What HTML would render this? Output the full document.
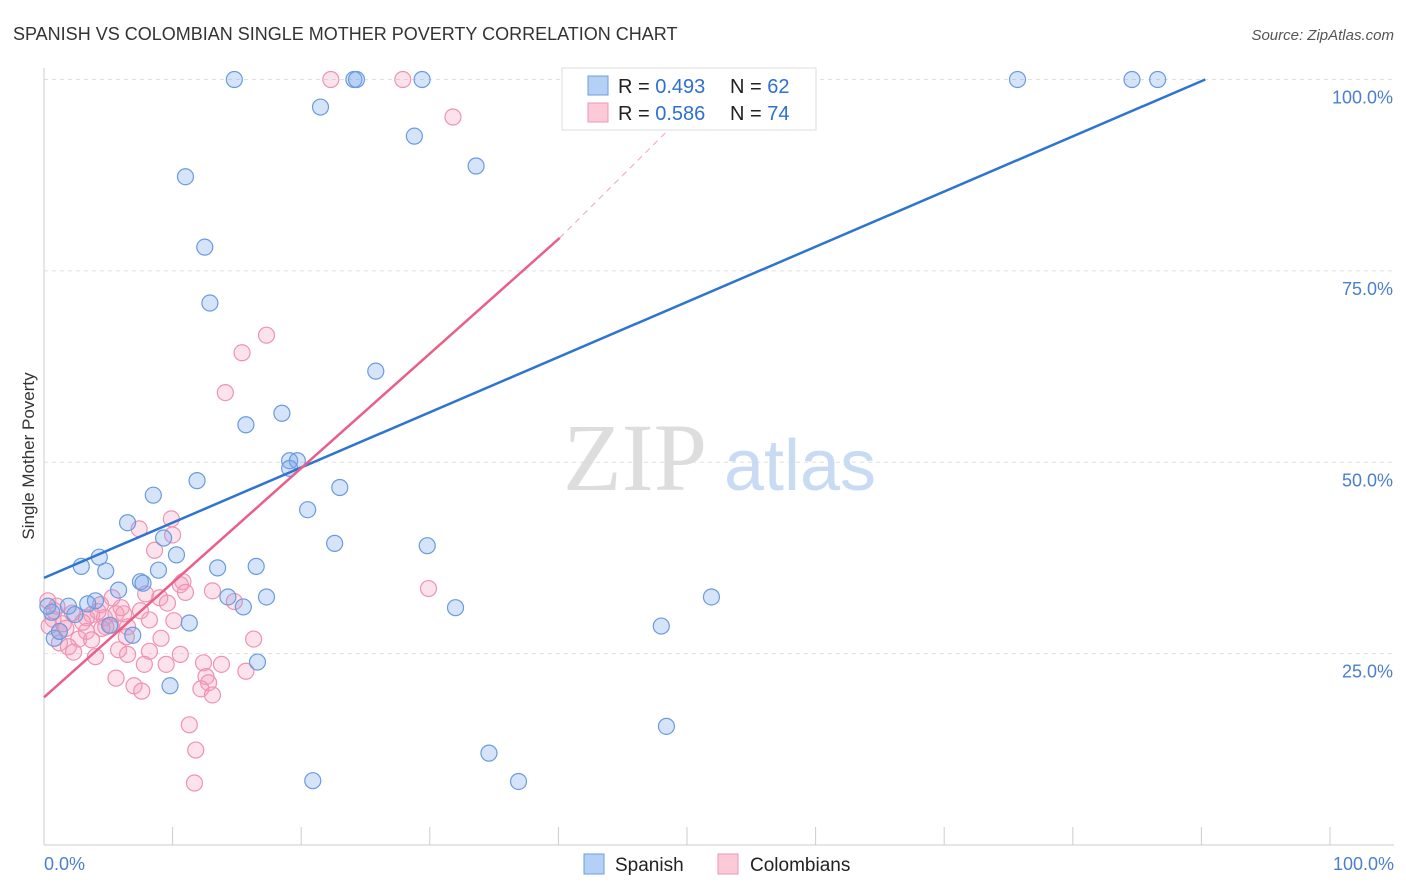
<!DOCTYPE html>
<html><head><meta charset="utf-8">
<style>
body{margin:0;background:#fff;font-family:"Liberation Sans",sans-serif;}
svg{display:block}
</style></head>
<body>
<svg id="chart" width="1406" height="892" xmlns="http://www.w3.org/2000/svg">
<text x="13" y="40" font-size="18" fill="#333">SPANISH VS COLOMBIAN SINGLE MOTHER POVERTY CORRELATION CHART</text>
<text x="1394" y="40" font-size="15" fill="#555" text-anchor="end" font-style="italic">Source: ZipAtlas.com</text>
<text transform="translate(34,456) rotate(-90)" font-size="17" fill="#333" text-anchor="middle">Single Mother Poverty</text>
<g id="grid"></g>
<g>
<text x="635" y="490" font-size="96" fill="#ddd" font-family="Liberation Serif" text-anchor="middle">ZIP</text>
<text x="800" y="490" font-size="72" fill="#c8dbf3" text-anchor="middle">atlas</text>
</g>
<g id="pts"></g>
<g id="lines"></g>
<g>
<rect x="562" y="68" width="254" height="62" fill="#fff" stroke="#ddd"/>
<rect x="588" y="76" width="20" height="19" fill="#b5d0f5" stroke="#6b9ce0"/>
<rect x="588" y="103" width="20" height="19" fill="#fcc9d8" stroke="#ee97b3"/>
<text x="618" y="93" font-size="20" fill="#222">R = <tspan fill="#2f6fd0">0.493</tspan><tspan x="730">N = </tspan><tspan fill="#2f6fd0">62</tspan></text>
<text x="618" y="120" font-size="20" fill="#222">R = <tspan fill="#2f6fd0">0.586</tspan><tspan x="730">N = </tspan><tspan fill="#2f6fd0">74</tspan></text>
</g>
<g>
<rect x="584" y="854" width="20" height="20" fill="#b5d0f5" stroke="#6b9ce0"/>
<text x="615" y="871" font-size="19" fill="#222">Spanish</text>
<rect x="718" y="854" width="20" height="20" fill="#fcc9d8" stroke="#ee97b3"/>
<text x="750" y="871" font-size="19" fill="#222">Colombians</text>
</g>
</svg>
<script>
const xTicks=[0,10,20,30,40,50,60,70,80,90,100];
const yTicks=[25,50,75,100];
const yTickLabels=["25.0%","50.0%","75.0%","100.0%"];
const spanishX=[14.8,24.1,24.3,29.4,41.9,52.4,75.7,84.6,86.6,21.5,28.8,33.6,11.0,12.5,12.9,25.8,18.5,15.7,19.1,19.7,19.1,11.9,8.5,23.0,20.5,6.5,9.3,22.6,29.8,10.3,4.3,2.9,4.8,16.5,8.9,13.5,7.5,7.7,5.8,17.3,14.3,15.5,4.0,3.4,1.9,32.0,51.9,2.4,0.6,5.1,11.3,6.9,0.8,48.0,16.6,9.8,48.4,34.6,20.9,36.9,0.3,1.2];
const spanishY=[100,100,100,100,100,100,100,100,100,96.4,92.6,88.7,87.3,78.1,70.8,61.9,56.4,54.9,50.2,50.2,49.2,47.6,45.7,46.7,43.8,42.1,40.1,39.4,39.1,37.9,37.6,36.4,35.8,36.4,35.9,36.2,34.4,34.2,33.3,32.4,32.4,31.1,31.9,31.5,31.2,31.0,32.4,30.1,30.4,28.7,29.0,27.4,27.0,28.6,23.9,20.8,15.5,12.0,8.4,8.3,31.2,27.9];
const colX=[22.3,27.9,31.8,17.3,15.4,14.1,7.4,9.9,10.0,8.6,10.8,10.6,7.9,9.0,11.0,13.1,14.8,0.3,1.0,4.4,2.2,5.6,6.2,3.7,4.7,3.3,0.7,1.5,5.2,6.5,8.2,10.1,0.4,1.2,3.3,4.8,6.4,9.1,2.7,16.3,3.7,1.9,8.2,10.6,2.3,4.0,6.5,12.4,13.8,7.8,9.5,15.7,5.6,12.6,12.8,7.0,7.6,12.2,13.1,11.3,11.8,11.7,29.9,0.8,1.2,4.5,5.8,9.6,6.0,1.7,3.0,7.5,4.2,5.3];
const colY=[100,100,95.1,66.6,64.3,59.1,41.3,42.6,40.5,38.5,34.4,34.0,32.8,32.3,33.0,33.2,31.8,31.9,31.2,31.4,30.3,30.2,30.2,30.1,29.7,29.7,29.5,28.9,28.7,28.5,29.4,29.3,28.6,27.9,27.9,28.5,27.2,27.0,26.9,26.9,26.8,25.9,25.3,24.9,25.2,24.6,24.9,23.8,23.6,23.6,23.6,22.7,21.8,22.0,21.2,20.8,20.1,20.4,19.6,15.7,12.4,8.1,33.5,30.6,26.4,28.3,25.5,31.6,31.0,28.3,29.1,30.6,30.5,32.3];
const spanishLine=[0,34.9,90.3,100];
const colLine=[0,19.3,40.1,79.3];
const colDash=[40.1,79.3,52.5,100];
const X=v=>44+v*12.86, Y=v=>845-v*7.655;
const NS="http://www.w3.org/2000/svg";
function mk(t,a,p){const e=document.createElementNS(NS,t);for(const k in a)e.setAttribute(k,a[k]);p.appendChild(e);return e;}
const svg=document.getElementById('chart'),grid=document.getElementById('grid'),pts=document.getElementById('pts'),lines=document.getElementById('lines');
yTicks.forEach((t,i)=>{
 const l=mk('line',{x1:44,x2:1394,y1:Y(t),y2:Y(t),stroke:'#e0e0e0','stroke-dasharray':'4,4'},grid);
 
 
 const tx=mk('text',{x:1393,y:Y(t)+24,'font-size':18,fill:'#4a7fd0','text-anchor':'end'},grid);
 tx.textContent=yTickLabels[i];
 
 
});
const ax=mk('line',{x1:44,x2:1394,y1:845,y2:845,stroke:'#ccc'},grid);


const ay=mk('line',{x1:44,x2:44,y1:68,y2:845,stroke:'#ccc'},grid);


xTicks.forEach(t=>{const l=mk('line',{x1:X(t),x2:X(t),y1:827,y2:845,stroke:'#ccc'},grid);
 
 });
const x0=mk('text',{x:44,y:870,'font-size':18,fill:'#4a7fd0'},grid);x0.textContent='0.0%';


const x1=mk('text',{x:1394,y:870,'font-size':18,fill:'#4a7fd0','text-anchor':'end'},grid);x1.textContent='100.0%';


colX.forEach((v,i)=>{const c=mk('circle',{cx:X(v),cy:Y(colY[i]),r:8,fill:'rgba(244,160,188,0.3)',stroke:'#ee93b1','stroke-width':1.2},pts);
 
 });
spanishX.forEach((v,i)=>{const c=mk('circle',{cx:X(v),cy:Y(spanishY[i]),r:8,fill:'rgba(120,165,235,0.3)',stroke:'#6a9be0','stroke-width':1.2},pts);
 
 });
const bl=mk('line',{x1:X(spanishLine[0]),y1:Y(spanishLine[1]),x2:X(spanishLine[2]),y2:Y(spanishLine[3]),stroke:'#2f74d0','stroke-width':2.5},lines);


const pl=mk('line',{x1:X(colLine[0]),y1:Y(colLine[1]),x2:X(colLine[2]),y2:Y(colLine[3]),stroke:'#e8608a','stroke-width':2.5},lines);


const pd=mk('line',{x1:X(colDash[0]),y1:Y(colDash[1]),x2:X(colDash[2]),y2:Y(colDash[3]),stroke:'#f0a0b8','stroke-width':1,'stroke-dasharray':'6,5'},lines);


</script>
</body></html>
